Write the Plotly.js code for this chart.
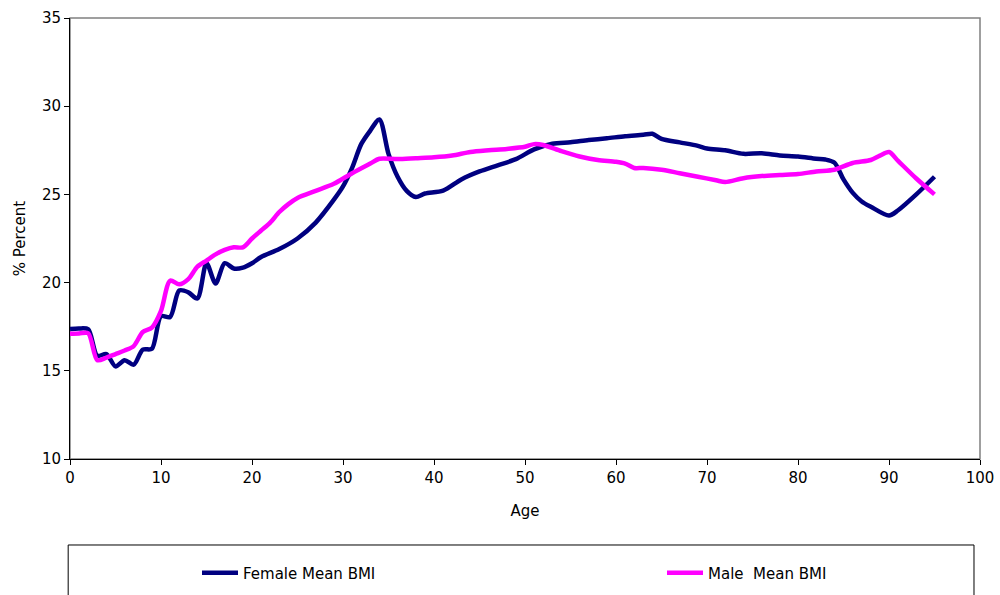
<!DOCTYPE html>
<html>
<head>
<meta charset="utf-8">
<script src="https://cdn.plot.ly/plotly-3.0.1.min.js"></script>
<style>
  html, body { margin: 0; padding: 0; background: #fff; }
  #chart { width: 1000px; height: 595px; }
</style>
</head>
<body>
<div id="chart"></div>
<script>
// Mean BMI by age
const femaleAges = [0, 1, 2, 3, 4, 5, 6, 7, 8, 9, 10, 11, 12, 13, 14, 15, 16, 17, 18, 19,
  20, 21, 23, 25, 27, 29, 30, 31, 32, 33, 34, 35, 36, 37, 38, 39, 41, 43, 45, 47,
  49, 51, 53, 55, 57, 59, 61, 63, 64, 65, 67, 69, 70, 72, 74, 76, 78, 80, 82, 83,
  84, 85, 86, 87, 88, 90, 91, 93, 95];
const femaleBMI = [17.37, 17.4, 17.35, 15.85, 15.95, 15.25, 15.6, 15.35, 16.2, 16.25,
  18.1, 18.05, 19.55, 19.45, 19.1, 21.1, 19.95, 21.1, 20.8, 20.85,
  21.1, 21.45, 21.9, 22.5, 23.4, 24.7, 25.45, 26.5, 27.85, 28.62, 29.25, 27.3, 26.0, 25.2, 24.85, 25.05,
  25.22, 25.85, 26.3, 26.65, 27.0, 27.55, 27.87, 27.96, 28.08, 28.18, 28.3, 28.38, 28.44, 28.15,
  27.95, 27.75, 27.6, 27.5, 27.3, 27.33, 27.21, 27.15, 27.02, 26.98,
  26.8, 25.85, 25.1, 24.6, 24.3, 23.8, 24.1, 25.0, 26.0];

const maleAges = [0, 1, 2, 3, 4, 5, 6, 7, 8, 9, 10, 11, 12, 13, 14, 15, 16, 17, 18, 19,
  20, 21, 22, 23, 24, 25, 27, 29, 31, 33, 34, 36, 38, 40, 42, 44, 46, 48, 50, 51,
  52, 54, 56, 58, 60, 61, 62, 63, 65, 67, 69, 71, 72, 74, 76, 78, 80, 82, 84, 86,
  88, 89, 90, 91, 93, 95];
const maleBMI = [17.1, 17.12, 17.13, 15.6, 15.75, 15.95, 16.15, 16.4, 17.2, 17.45,
  18.4, 20.11, 19.9, 20.2, 20.9, 21.25, 21.6, 21.85, 22.0, 22.0,
  22.5, 22.95, 23.4, 24.0, 24.45, 24.8, 25.2, 25.6, 26.2, 26.75, 27.02, 27.0, 27.05, 27.1,
  27.2, 27.4, 27.5, 27.58, 27.7, 27.85, 27.8, 27.45, 27.15, 26.95, 26.85, 26.75, 26.5, 26.5,
  26.4, 26.2, 26.0, 25.8, 25.7, 25.92, 26.04, 26.1, 26.15, 26.3, 26.4, 26.78,
  26.95, 27.2, 27.4, 26.9, 25.9, 25.0];

const seriesNames = ['Female Mean BMI', 'Male  Mean BMI'];
const seriesColors = ['#000080', '#FF00FF'];

const FONT = 'DejaVu Sans, Verdana, sans-serif';

const female = {
    x: femaleAges,
    y: femaleBMI,
    name: seriesNames[0],
    type: 'scatter',
    mode: 'lines',
    line: { color: seriesColors[0], width: 4.5, shape: 'spline', smoothing: 0.8 },
    showlegend: true,
    legend: 'legend'
};

const male = {
    x: maleAges,
    y: maleBMI,
    name: seriesNames[1],
    type: 'scatter',
    mode: 'lines',
    line: { color: seriesColors[1], width: 4.5, shape: 'spline', smoothing: 0.8 },
    showlegend: true,
    legend: 'legend2'
};

// legends sit in the boxed strip under the chart, placed against the whole page
const legendStyle = {
    orientation: 'h',
    xref: 'container',
    yref: 'container',
    yanchor: 'middle',
    xanchor: 'left',
    y: 0.037,
    bgcolor: 'rgba(0,0,0,0)',
    font: { family: FONT, size: 15, color: '#000' },
    itemwidth: 36,
    visible: true
};

const layout = {
    width: 1000,
    height: 595,
    showlegend: true,
    paper_bgcolor: '#fff',
    plot_bgcolor: '#fff',
    font: { family: FONT, size: 15, color: '#000' },
    margin: { l: 70, r: 20, t: 18, b: 136 },
    xaxis: {
        range: [0, 100],
        dtick: 10,
        showgrid: false,
        zeroline: false,
        showline: true,
        linecolor: '#000',
        linewidth: 1,
        ticks: 'outside',
        ticklen: 5,
        tickcolor: '#000',
        title: { text: 'Age', font: { family: FONT, size: 15 }, standoff: 19 }
    },
    yaxis: {
        range: [10, 35],
        dtick: 5,
        showgrid: false,
        zeroline: false,
        showline: true,
        linecolor: '#000',
        linewidth: 1,
        ticks: 'outside',
        ticklen: 5,
        tickcolor: '#000',
        title: { text: '% Percent', font: { family: FONT, size: 15 }, standoff: 12 }
    },
    legend: Object.assign({}, legendStyle, { x: 0.197 }),
    legend2: Object.assign({}, legendStyle, { x: 0.662 }),
    shapes: [
        // plot area border (grey top and right)
        { type: 'rect', xref: 'paper', yref: 'paper', x0: 0, x1: 1, y0: 0, y1: 1,
          line: { color: '#808080', width: 1.5 }, layer: 'below' },
        // legend box
        { type: 'rect', xref: 'paper', yref: 'paper', x0: -0.002, x1: 0.9934, y0: -0.195, y1: -0.4,
          line: { color: '#000', width: 1 }, layer: 'below' }
    ]
};

Plotly.newPlot('chart', [female, male], layout, { displayModeBar: false, staticPlot: true });
</script>
</body>
</html>
